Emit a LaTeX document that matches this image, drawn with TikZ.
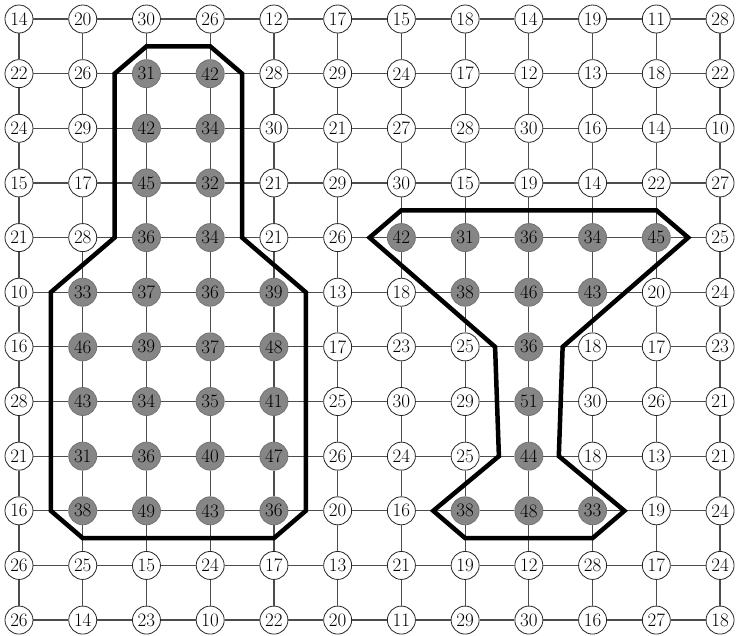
\documentclass[tikz,border=0pt]{standalone}
\begin{document}
\begin{tikzpicture}[x=63.73pt,y=-54.64pt,
        cell/.style={circle,draw=black!85,line width=0.8pt,fill=white,minimum size=28pt,inner sep=0pt,
            font=\fontsize{19}{19}\selectfont},
        hot/.style={cell,fill=gray!95,draw=black!55},
        link/.style={draw=black!70,line width=1.2pt},
        outline/.style={line width=4.5pt}]
    \useasboundingbox(-0.298,-0.348)rectangle(11.313,11.274);
    % values, row by row
    \foreach \vals [count=\r from 0] in {
            {14,20,30,26,12,17,15,18,14,19,11,28},
            {22,26,31,42,28,29,24,17,12,13,18,22},
            {24,29,42,34,30,21,27,28,30,16,14,10},
            {15,17,45,32,21,29,30,15,19,14,22,27},
            {21,28,36,34,21,26,42,31,36,34,45,25},
            {10,33,37,36,39,13,18,38,46,43,20,24},
            {16,46,39,37,48,17,23,25,36,18,17,23},
            {28,43,34,35,41,25,30,29,51,30,26,21},
            {21,31,36,40,47,26,24,25,44,18,13,21},
            {16,38,49,43,36,20,16,38,48,33,19,24},
            {26,25,15,24,17,13,21,19,12,28,17,24},
            {26,14,23,10,22,20,11,29,30,16,27,18}}{
        \foreach \v [count=\c from 0] in \vals{
            \ifnum\v>30 \def\sty{hot}\else\def\sty{cell}\fi
            \node[\sty](n-\r-\c)at(\c,\r){\v};
        }
    }
    % grid links
    \foreach \r in {0,...,11}{
        \foreach \c [evaluate=\c as \cc using int(\c+1)] in {0,...,10}{
            \draw[link](n-\r-\c)--(n-\r-\cc);
            \draw[link](n-\c-\r)--(n-\cc-\r);
        }
    }
    % bottle
    \draw[outline](1.5,1)--(2,0.5)--(3,0.5)--(3.5,1)--(3.5,4)--(4.5,5)--(4.5,9)
        --(4,9.5)--(1,9.5)--(0.5,9)--(0.5,5)--(1.5,4)--cycle;
    % glass
    \draw[outline](6,3.5)--(10,3.5)--(10.5,4)--(8.53,6)--(8.47,8)--(9.5,9)--(9,9.5)
        --(7,9.5)--(6.5,9)--(7.53,8)--(7.47,6)--(5.5,4)--cycle;
\end{tikzpicture}
\end{document}
